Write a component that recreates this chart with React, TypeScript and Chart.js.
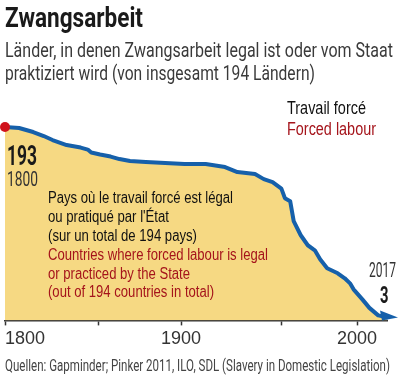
import React, { useEffect, useLayoutEffect, useRef } from "react";
import { Chart, registerables } from "chart.js";

Chart.register(...registerables);

// ---- data ----
const YEARS = [
  1800, 1808, 1816, 1822, 1827, 1835, 1843, 1847, 1849, 1854, 1860, 1865, 1871,
  1880, 1891, 1902, 1914, 1925, 1932, 1942, 1947, 1952, 1957, 1959, 1962, 1964,
  1968, 1972, 1976, 1979, 1983, 1989, 1993, 1996, 1998, 2003, 2007, 2012, 2017,
];
const VALUES = [
  193, 192, 188, 184, 180, 175, 172.5, 170.5, 167.5, 165.5, 163.5, 161, 159,
  158, 157, 156, 156, 153, 148, 146, 141, 138, 131.5, 122, 119, 99,
  85, 75, 70, 61, 52, 47, 42, 37, 31, 21, 12.5, 5, 3,
];
const X_TICKS = [1800, 1853, 1900, 1957, 2000, 2017];
const X_LABELS = ["1800", "", "1900", "", "2000", ""];

const TITLE = "Zwangsarbeit";
const SUBTITLE = [
  "Länder, in denen Zwangsarbeit legal ist oder vom Staat",
  "praktiziert wird (von insgesamt 194 Ländern)",
];
const LEGEND_FR = "Travail forcé";
const LEGEND_EN = "Forced labour";
const NOTE_FR = [
  "Pays où le travail forcé est légal",
  "ou pratiqué par l'État",
  "(sur un total de 194 pays)",
];
const NOTE_EN = [
  "Countries where forced labour is legal",
  "or practiced by the State",
  "(out of 194 countries in total)",
];
const SOURCE =
  "Quellen: Gapminder; Pinker 2011, ILO, SDL (Slavery in Domestic Legislation)";

// ---- styles ----
const BLUE = "#1660aa";
const FILL = "#f6d983";
const RED_DOT = "#d0121b";
const DARK_RED = "#a5141b";
const DIN = "'Roboto', 'Liberation Sans Narrow', sans-serif";
const NARROW = "'Liberation Sans Narrow', 'Liberation Sans', Arial, sans-serif";

type TxtProps = {
  x: number;
  base: number;
  size: number;
  weight?: number;
  color?: string;
  family: string;
  width?: number;
  children: React.ReactNode;
};

function Txt({ x, base, size, weight = 400, color = "#222", family, width, children }: TxtProps) {
  const ref = useRef<HTMLDivElement>(null);
  useLayoutEffect(() => {
    const el = ref.current;
    if (!el) return;
    el.style.transform = "none";
    const w = el.getBoundingClientRect().width;
    if (width && w > 0) el.style.transform = `scaleX(${width / w})`;
  }, [width]);
  return (
    <div
      ref={ref}
      style={{
        position: "absolute",
        left: x,
        top: base - 0.34 * size,
        fontSize: size,
        fontWeight: weight,
        color,
        fontFamily: family,
        lineHeight: 0,
        whiteSpace: "nowrap",
        transformOrigin: "0 0",
      }}
    >
      {children}
    </div>
  );
}

const arrowPlugin = {
  id: "arrowHead",
  afterDatasetsDraw(chart: any) {
    const meta = chart.getDatasetMeta(0);
    const pts = meta.data;
    if (!pts.length) return;
    const p = pts[pts.length - 1];
    const ctx = chart.ctx;
    ctx.save();
    ctx.fillStyle = BLUE;
    ctx.beginPath();
    ctx.moveTo(p.x + 11, p.y);
    ctx.lineTo(p.x - 7, p.y - 7);
    ctx.lineTo(p.x - 5, p.y + 3);
    ctx.closePath();
    ctx.fill();
    ctx.restore();
  },
};

export default function App() {
  const canvasRef = useRef<HTMLCanvasElement>(null);

  useEffect(() => {
    const canvas = canvasRef.current;
    if (!canvas) return;
    const chart = new Chart(canvas, {
      type: "line",
      data: {
        datasets: [
          {
            data: YEARS.map((x, i) => ({ x, y: VALUES[i] })),
            borderColor: BLUE,
            borderWidth: 4,
            backgroundColor: FILL,
            fill: "origin",
            tension: 0,
            borderJoinStyle: "round",
            borderCapStyle: "round",
            pointRadius: (c: any) => (c.dataIndex === 0 ? 5 : 0),
            pointHoverRadius: 0,
            pointBackgroundColor: RED_DOT,
            pointBorderWidth: 0,
            clip: false,
          } as any,
        ],
      },
      options: {
        animation: false,
        responsive: false,
        devicePixelRatio: 1,
        events: [],
        layout: { padding: { left: 5, right: 13, top: 120, bottom: 24 } },
        plugins: { legend: { display: false }, tooltip: { enabled: false } },
        scales: {
          x: {
            type: "linear",
            min: 1800,
            max: 2017,
            afterBuildTicks: (s: any) => {
              s.ticks = X_TICKS.map((v) => ({ value: v }));
            },
            ticks: {
              autoSkip: false,
              maxRotation: 0,
              align: "inner",
              padding: 3,
              color: "#333",
              font: { family: NARROW, size: 18 },
              callback: (v: any) => {
                const i = X_TICKS.indexOf(Number(v));
                return i >= 0 ? X_LABELS[i] : "";
              },
            },
            grid: {
              display: true,
              drawOnChartArea: false,
              drawTicks: true,
              tickLength: 5,
              tickWidth: 1.5,
              tickColor: (c: any) =>
                c.tick && c.tick.value === 2017 ? "rgba(0,0,0,0)" : "#333",
            },
            border: { display: true, color: "#333", width: 1.5 },
          },
          y: { display: false, min: 0, max: 200 },
        },
      } as any,
      plugins: [arrowPlugin],
    });
    return () => chart.destroy();
  }, []);

  return (
    <div
      style={{
        position: "absolute",
        left: 0,
        top: 0,
        width: 400,
        height: 377,
        overflow: "hidden",
        background: "#fff",
      }}
    >
      <canvas
        ref={canvasRef}
        width={400}
        height={377}
        style={{ position: "absolute", left: 0, top: 0, width: 400, height: 377 }}
      />
      <Txt x={5} base={27} size={27} weight={700} color="#1a1a1a" family={DIN} width={138}>
        {TITLE}
      </Txt>
      <Txt x={5} base={57} size={21} color="#3a3a3a" family={DIN} width={388}>
        {SUBTITLE[0]}
      </Txt>
      <Txt x={5} base={80} size={21} color="#3a3a3a" family={DIN} width={310}>
        {SUBTITLE[1]}
      </Txt>
      <Txt x={287} base={113.5} size={17.5} color="#111" family={NARROW} width={79}>
        {LEGEND_FR}
      </Txt>
      <Txt x={287} base={135} size={17.5} color={DARK_RED} family={NARROW} width={89}>
        {LEGEND_EN}
      </Txt>
      <Txt x={7} base={166} size={28} weight={700} color="#1a1a1a" family={DIN} width={30}>
        193
      </Txt>
      <Txt x={7} base={185.5} size={20} color="#333" family={DIN} width={31}>
        1800
      </Txt>
      <Txt x={48} base={203} size={16} color="#111" family={NARROW} width={185}>
        {NOTE_FR[0]}
      </Txt>
      <Txt x={48} base={222} size={16} color="#111" family={NARROW} width={121}>
        {NOTE_FR[1]}
      </Txt>
      <Txt x={48} base={241} size={16} color="#111" family={NARROW} width={149}>
        {NOTE_FR[2]}
      </Txt>
      <Txt x={48} base={260} size={16} color={DARK_RED} family={NARROW} width={220}>
        {NOTE_EN[0]}
      </Txt>
      <Txt x={48} base={279} size={16} color={DARK_RED} family={NARROW} width={142}>
        {NOTE_EN[1]}
      </Txt>
      <Txt x={48} base={297.5} size={16} color={DARK_RED} family={NARROW} width={166}>
        {NOTE_EN[2]}
      </Txt>
      <Txt x={369} base={276.7} size={21} color="#333" family={DIN} width={27}>
        2017
      </Txt>
      <Txt x={380} base={303} size={23.5} weight={700} color="#1a1a1a" family={DIN} width={8.5}>
        3
      </Txt>
      <Txt x={5} base={371} size={17} color="#444" family={DIN} width={385}>
        {SOURCE}
      </Txt>
    </div>
  );
}
